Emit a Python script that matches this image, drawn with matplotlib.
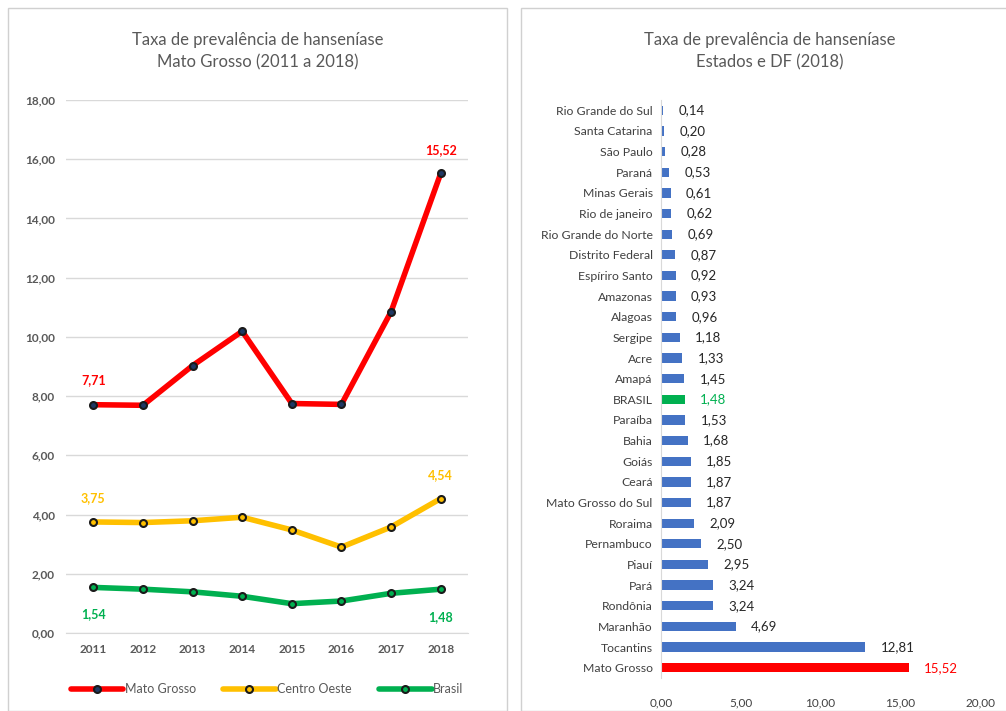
import matplotlib.pyplot as plt
from matplotlib.patches import Rectangle
from matplotlib.ticker import FuncFormatter

plt.rcParams['font.family'] = ['Lato', 'DejaVu Sans']

# --- left chart data ---
anos = ['2011', '2012', '2013', '2014', '2015', '2016', '2017', '2018']
mato_grosso = [7.71, 7.69, 9.03, 10.19, 7.75, 7.72, 10.85, 15.52]
centro_oeste = [3.75, 3.73, 3.79, 3.91, 3.48, 2.90, 3.58, 4.54]
brasil = [1.54, 1.48, 1.39, 1.24, 0.99, 1.08, 1.34, 1.48]

# --- right chart data (top to bottom) ---
estados = ['Rio Grande do Sul', 'Santa Catarina', 'São Paulo', 'Paraná', 'Minas Gerais',
           'Rio de janeiro', 'Rio Grande do Norte', 'Distrito Federal', 'Espíriro Santo',
           'Amazonas', 'Alagoas', 'Sergipe', 'Acre', 'Amapá', 'BRASIL', 'Paraíba', 'Bahia',
           'Goiás', 'Ceará', 'Mato Grosso do Sul', 'Roraima', 'Pernambuco', 'Piauí', 'Pará',
           'Rondônia', 'Maranhão', 'Tocantins', 'Mato Grosso']
taxas = [0.14, 0.20, 0.28, 0.53, 0.61, 0.62, 0.69, 0.87, 0.92, 0.93, 0.96, 1.18, 1.33,
         1.45, 1.48, 1.53, 1.68, 1.85, 1.87, 1.87, 2.09, 2.50, 2.95, 3.24, 3.24, 4.69,
         12.81, 15.52]

RED = '#FF0000'
YELLOW = '#FFC000'
GREEN = '#00B050'
BLUE = '#4472C4'
TEXT = '#595959'
GRID = '#D9D9D9'


def br(v, pos=None):
    return f'{v:.2f}'.replace('.', ',')


W, H = 1006, 711
fig = plt.figure(figsize=(W / 100, H / 100), dpi=100)

# panel borders
fig.patches.append(Rectangle((8 / W, 0), 499 / W, 703 / H, transform=fig.transFigure,
                             fill=False, edgecolor='#D0D0D0', lw=1))
fig.patches.append(Rectangle((521 / W, 0), 490 / W, 703 / H, transform=fig.transFigure,
                             fill=False, edgecolor='#D0D0D0', lw=1))

# ---------- left: line chart ----------
ax = fig.add_axes([66 / W, (H - 633) / H, (468 - 66) / W, 533 / H])
x = list(range(len(anos)))
series = [(mato_grosso, RED, '#1F3864', 'Mato Grosso'),
          (centro_oeste, YELLOW, YELLOW, 'Centro Oeste'),
          (brasil, GREEN, GREEN, 'Brasil')]
for vals, col, mfc, name in series:
    ax.plot(x, vals, color=col, lw=4, marker='o', ms=5, mfc=mfc,
            mec='#1a1a1a', mew=1.5, label=name, solid_capstyle='round', zorder=3)

ax.set_ylim(0, 18)
ax.set_xlim(-0.55, len(anos) - 0.45)
ax.set_yticks(range(0, 19, 2))
ax.yaxis.set_major_formatter(FuncFormatter(br))
ax.set_xticks(x)
ax.set_xticklabels(anos)
ax.grid(axis='y', color=GRID, lw=1)
ax.set_axisbelow(True)
for s in ['top', 'right', 'left']:
    ax.spines[s].set_visible(False)
ax.spines['bottom'].set_color(GRID)
ax.tick_params(length=0, labelsize=8.5, colors=TEXT, pad=8)
for lbl in ax.get_xticklabels() + ax.get_yticklabels():
    lbl.set_fontweight('bold')

# data labels
lab = dict(fontsize=9, fontweight='bold', ha='center', textcoords='offset points')
ax.annotate(br(mato_grosso[0]), (0, mato_grosso[0]), xytext=(0, 15), color=RED, **lab)
ax.annotate(br(mato_grosso[-1]), (7, mato_grosso[-1]), xytext=(0, 14), color=RED, **lab)
ax.annotate(br(centro_oeste[0]), (0, centro_oeste[0]), xytext=(0, 14), color=YELLOW, **lab)
ax.annotate(br(centro_oeste[-1]), (7, centro_oeste[-1]), xytext=(0, 14), color=YELLOW, **lab)
ax.annotate(br(brasil[0]), (0, brasil[0]), xytext=(0, -22), color=GREEN, **lab)
ax.annotate(br(brasil[-1]), (7, brasil[-1]), xytext=(0, -23), color=GREEN, **lab)

fig.text(258 / W, 1 - 40 / H, 'Taxa de prevalência de hanseníase', ha='center', va='center',
         fontsize=12, color=TEXT)
fig.text(258 / W, 1 - 62 / H, 'Mato Grosso (2011 a 2018)', ha='center', va='center',
         fontsize=12, color=TEXT)

leg = ax.legend(loc='center', bbox_to_anchor=(0.5, -0.105), ncol=3, frameon=False,
                fontsize=9, handlelength=4.2, handletextpad=0.1, columnspacing=2.2)
for t in leg.get_texts():
    t.set_color(TEXT)

# ---------- right: bar chart ----------
bx = fig.add_axes([661 / W, (H - 678) / H, (980 - 661) / W, 578 / H])
cores = []
for e in estados:
    if e == 'BRASIL':
        cores.append(GREEN)
    elif e == 'Mato Grosso':
        cores.append(RED)
    else:
        cores.append(BLUE)
pos = list(range(len(estados)))
bx.barh(pos, taxas, height=0.45, color=cores)
bx.set_ylim(len(estados) - 0.5, -0.5)
bx.set_xlim(0, 20)
bx.set_xticks([0, 5, 10, 15, 20])
bx.xaxis.set_major_formatter(FuncFormatter(br))
bx.set_yticks(pos)
bx.set_yticklabels(estados)
for s in ['top', 'right', 'bottom']:
    bx.spines[s].set_visible(False)
bx.spines['left'].set_color(GRID)
bx.tick_params(length=0, labelsize=8.8, colors='#404040', pad=6)
bx.tick_params(axis='x', pad=14, labelsize=8.5)

for p, v, e in zip(pos, taxas, estados):
    c = GREEN if e == 'BRASIL' else (RED if e == 'Mato Grosso' else '#262626')
    bx.annotate(br(v), (v, p), xytext=(11, 0), textcoords='offset points', va='center',
                ha='left', fontsize=9.5, color=c)

fig.text(770 / W, 1 - 40 / H, 'Taxa de prevalência de hanseníase', ha='center', va='center',
         fontsize=12, color=TEXT)
fig.text(770 / W, 1 - 62 / H, 'Estados e DF (2018)', ha='center', va='center',
         fontsize=12, color=TEXT)

fig.savefig('out.png', dpi=100)
